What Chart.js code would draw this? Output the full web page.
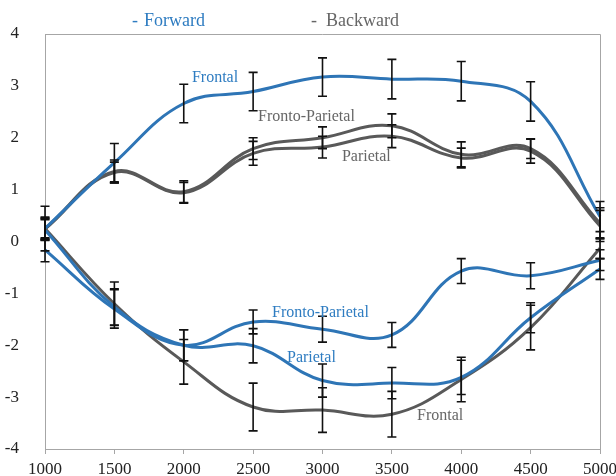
<!DOCTYPE html>
<html>
<head>
<meta charset="utf-8">
<script src="https://cdn.jsdelivr.net/npm/chart.js@4/dist/chart.umd.min.js"></script>
<style>
  html, body { margin: 0; padding: 0; background: #ffffff; }
  #wrap { width: 616px; height: 476px; position: relative; }
</style>
</head>
<body>
<div id="wrap"><canvas id="chart" width="616" height="476"></canvas></div>
<script>
// Time points (ms) along the x axis
const categories = ['1000', '1500', '2000', '2500', '3000', '3500', '4000', '4500', '5000'];
const yTicks = [-4, -3, -2, -1, 0, 1, 2, 3, 4];
const legendLabels = ['Forward', 'Backward'];

// Forward series (blue)
const fwdFrontal        = [0.25, 1.52, 2.66, 2.89, 3.17, 3.13, 3.09, 2.70, 0.48];
const fwdFrontalErr     = [0.43, 0.37, 0.37, 0.37, 0.37, 0.38, 0.38, 0.38, 0.29];
const fwdFrontoParietal    = [-0.16, -1.30, -2.00, -1.55, -1.69, -1.80, -0.57, -0.66, -0.36];
const fwdFrontoParietalErr = [0.23, 0.37, 0.30, 0.23, 0.25, 0.24, 0.24, 0.25, 0.20];
const fwdParietal       = [0.22, -1.26, -2.00, -2.01, -2.68, -2.73, -2.62, -1.47, -0.53];
const fwdParietalErr    = [0.20, 0.35, 0.30, 0.33, 0.32, 0.30, 0.33, 0.29, 0.20];

// Backward series (grey)
const bwdFrontoParietal    = [0.25, 1.35, 0.96, 1.79, 2.00, 2.23, 1.68, 1.79, 0.35];
const bwdFrontoParietalErr = [0.22, 0.22, 0.21, 0.21, 0.21, 0.23, 0.24, 0.19, 0.30];
const bwdParietal       = [0.24, 1.33, 0.94, 1.70, 1.82, 2.03, 1.61, 1.74, 0.30];
const bwdParietalErr    = [0.20, 0.20, 0.20, 0.23, 0.21, 0.22, 0.19, 0.23, 0.30];
const bwdFrontal        = [0.25, -1.20, -2.32, -3.19, -3.25, -3.33, -2.66, -1.66, -0.13];
const bwdFrontalErr     = [0.20, 0.42, 0.43, 0.46, 0.43, 0.44, 0.43, 0.43, 0.20];

const BLUE = '#2E75B6';
const GREY = '#595959';
const AXIS = '#A6A6A6';
const SERIF = '"Liberation Serif", "Times New Roman", serif';

function series(label, data, err, color) {
  return {
    label, data, err,
    borderColor: color,
    backgroundColor: color,
    borderWidth: 3,
    pointRadius: 0,
    pointHoverRadius: 0,
    tension: 0.4,
    fill: false,
    clip: false
  };
}

// Region names written next to their curves (anchored in data units)
const curveNames = [
  { text: 'Frontal',         x: 2059, y: 3.15,  color: '#2E7CC1' },
  { text: 'Fronto-Parietal', x: 2535, y: 2.40,  color: '#666666' },
  { text: 'Parietal',        x: 3140, y: 1.63,  color: '#666666' },
  { text: 'Fronto-Parietal', x: 2636, y: -1.38, color: '#2E7CC1' },
  { text: 'Parietal',        x: 2744, y: -2.25, color: '#2E7CC1' },
  { text: 'Frontal',         x: 3681, y: -3.36, color: '#666666' }
];

// Frame: top and right edges of the plot box
const frame = {
  id: 'frame',
  beforeDatasetsDraw(chart) {
    const { ctx, chartArea: a } = chart;
    ctx.save();
    ctx.strokeStyle = AXIS;
    ctx.lineWidth = 1;
    ctx.beginPath();
    ctx.moveTo(a.left, a.top + 0.5);
    ctx.lineTo(a.right + 0.5, a.top + 0.5);
    ctx.lineTo(a.right + 0.5, a.bottom);
    ctx.stroke();
    ctx.restore();
  }
};

// Vertical error bars with caps
const errorBars = {
  id: 'errorBars',
  afterDatasetsDraw(chart) {
    const { ctx } = chart;
    const ys = chart.scales.y;
    ctx.save();
    ctx.strokeStyle = '#111111';
    ctx.lineWidth = 1.6;
    chart.data.datasets.forEach((ds, i) => {
      const meta = chart.getDatasetMeta(i);
      meta.data.forEach((pt, j) => {
        const v = ds.data[j], e = ds.err[j];
        const x = pt.x;
        const top = ys.getPixelForValue(v + e);
        const bot = ys.getPixelForValue(v - e);
        ctx.beginPath();
        ctx.moveTo(x, top); ctx.lineTo(x, bot);
        ctx.moveTo(x - 4.5, top); ctx.lineTo(x + 4.5, top);
        ctx.moveTo(x - 4.5, bot); ctx.lineTo(x + 4.5, bot);
        ctx.stroke();
      });
    });
    ctx.restore();
  }
};

// Curve names and the two-entry legend
const texts = {
  id: 'texts',
  afterDraw(chart) {
    const { ctx } = chart;
    const xs = chart.scales.x, ys = chart.scales.y;
    const first = Number(categories[0]), step = Number(categories[1]) - first;
    ctx.save();
    ctx.font = '16px ' + SERIF;
    ctx.textBaseline = 'middle';
    ctx.textAlign = 'left';
    curveNames.forEach(n => {
      const idx = (n.x - first) / step;
      const px = xs.getPixelForValue(idx);
      const py = ys.getPixelForValue(n.y);
      ctx.fillStyle = n.color;
      ctx.fillText(n.text, px, py);
    });

    ctx.font = '18px ' + SERIF;
    ctx.textBaseline = 'alphabetic';
    const entries = [
      { text: legendLabels[0], dash: 132, x: 144, color: '#2E7CC1' },
      { text: legendLabels[1], dash: 311, x: 326, color: '#666666' }
    ];
    entries.forEach(e => {
      ctx.fillStyle = e.color;
      ctx.fillText('-', e.dash, 26);
      ctx.fillText(e.text, e.x, 26);
    });
    ctx.restore();
  }
};

new Chart(document.getElementById('chart'), {
  type: 'line',
  data: {
    labels: categories,
    datasets: [
      series('Forward Frontal', fwdFrontal, fwdFrontalErr, BLUE),
      series('Backward Fronto-Parietal', bwdFrontoParietal, bwdFrontoParietalErr, GREY),
      series('Backward Parietal', bwdParietal, bwdParietalErr, GREY),
      series('Forward Fronto-Parietal', fwdFrontoParietal, fwdFrontoParietalErr, BLUE),
      series('Forward Parietal', fwdParietal, fwdParietalErr, BLUE),
      series('Backward Frontal', bwdFrontal, bwdFrontalErr, GREY)
    ]
  },
  options: {
    responsive: false,
    animation: false,
    events: [],
    layout: { padding: { left: 0, right: 16, top: 34, bottom: 0 } },
    plugins: {
      legend: { display: false },
      tooltip: { enabled: false }
    },
    scales: {
      x: {
        type: 'category',
        offset: false,
        afterFit: s => { s.height = 27; s.paddingRight = 0; s.paddingLeft = 0; },
        grid: { display: true, drawOnChartArea: false, drawTicks: true, tickLength: 5, color: AXIS },
        border: { display: true, color: AXIS, width: 1 },
        ticks: {
          color: '#222222',
          font: { family: SERIF, size: 17 },
          padding: 5,
          maxRotation: 0,
          autoSkip: false
        }
      },
      y: {
        type: 'linear',
        min: yTicks[0],
        max: yTicks[yTicks.length - 1],
        afterFit: s => { s.width = 45; s.paddingTop = 0; s.paddingBottom = 0; },
        afterBuildTicks: s => { s.ticks = yTicks.map(v => ({ value: v })); },
        grid: { display: false },
        border: { display: true, color: AXIS, width: 1 },
        ticks: {
          color: '#222222',
          font: { family: SERIF, size: 17 },
          padding: 18,
          callback: v => String(v)
        }
      }
    }
  },
  plugins: [frame, errorBars, texts]
});
</script>
</body>
</html>
